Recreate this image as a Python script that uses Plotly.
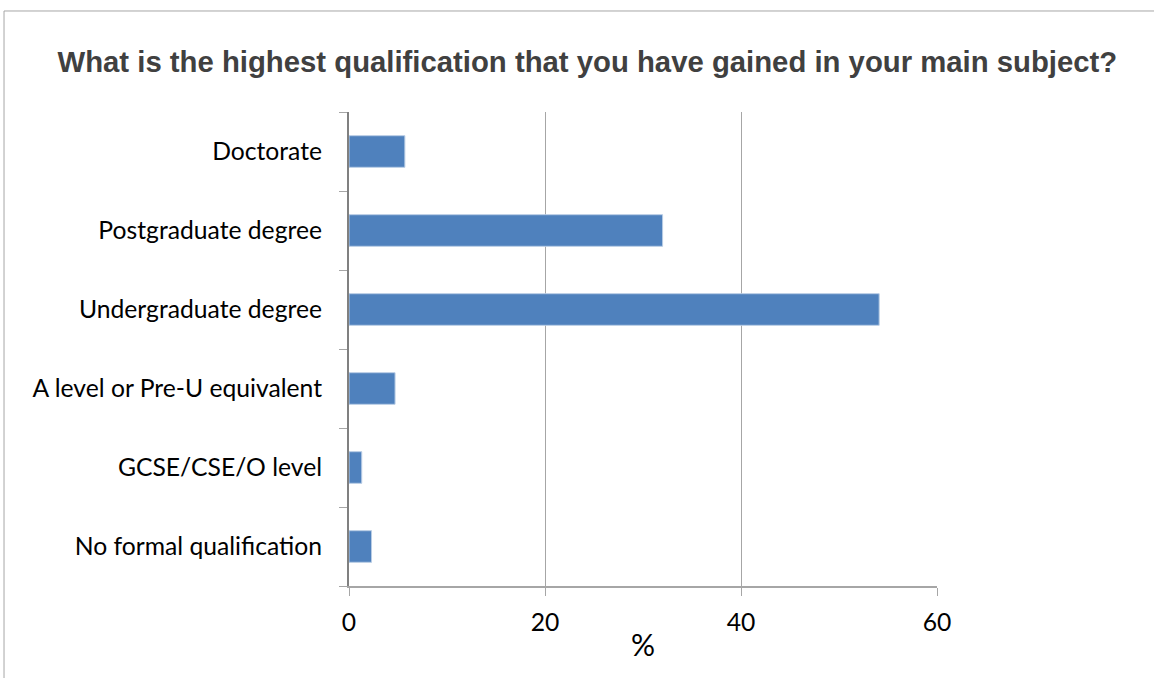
import plotly.graph_objects as go

categories = [
    "No formal qualification",
    "GCSE/CSE/O level",
    "A level or Pre-U equivalent",
    "Undergraduate degree",
    "Postgraduate degree",
    "Doctorate",
]
percent = [2.3, 1.3, 4.7, 54.1, 32.0, 5.7]

x_ticks = [0, 20, 40, 60]

fig = go.Figure(go.Bar(
    x=percent,
    y=categories,
    orientation="h",
    width=0.4,
    marker=dict(color="#4F81BD", line=dict(color="#B9CDE5", width=1)),
    hoverinfo="x+y",
))

fig.update_layout(
    width=1154,
    height=678,
    margin=dict(l=349, r=217, t=112, b=92),
    paper_bgcolor="white",
    plot_bgcolor="white",
    showlegend=False,
    font=dict(family="Lato, Carlito, sans-serif", size=24.7, color="black"),
    title=dict(
        text="<b>What is the highest qualification that you have gained in your main subject?</b>",
        font=dict(family="Liberation Sans, Arial, sans-serif", size=29.3, color="#404040"),
        x=0.509, xanchor="center",
        y=0.909, yanchor="middle",
    ),
    xaxis=dict(
        range=[0, 60],
        tickvals=x_ticks,
        showgrid=True,
        gridcolor="#A6A6A6",
        gridwidth=1,
        zeroline=False,
        showline=True,
        linecolor="#A6A6A6",
        linewidth=2,
        ticks="outside",
        ticklen=8,
        tickcolor="#A6A6A6",
        ticklabelstandoff=5,
        title=dict(text="%", standoff=0),
        fixedrange=True,
    ),
    yaxis=dict(
        type="category",
        categoryorder="array",
        categoryarray=categories,
        tickson="boundaries",
        showgrid=False,
        showline=True,
        linecolor="#808080",
        linewidth=2,
        ticks="outside",
        ticklen=8,
        tickcolor="#A6A6A6",
        ticklabelstandoff=20,
        fixedrange=True,
    ),
    shapes=[dict(
        type="rect", xref="paper", yref="paper",
        x0=-0.5867, x1=2, y0=-1, y1=1.2131,
        line=dict(color="#A6A6A6", width=1),
        layer="below",
    )],
)

# drop the browser's default body margin so the chart sits at the page corner
fig.write_html(
    "out.html",
    config={"displayModeBar": False},
    post_script="document.body.style.margin = '0';",
)
